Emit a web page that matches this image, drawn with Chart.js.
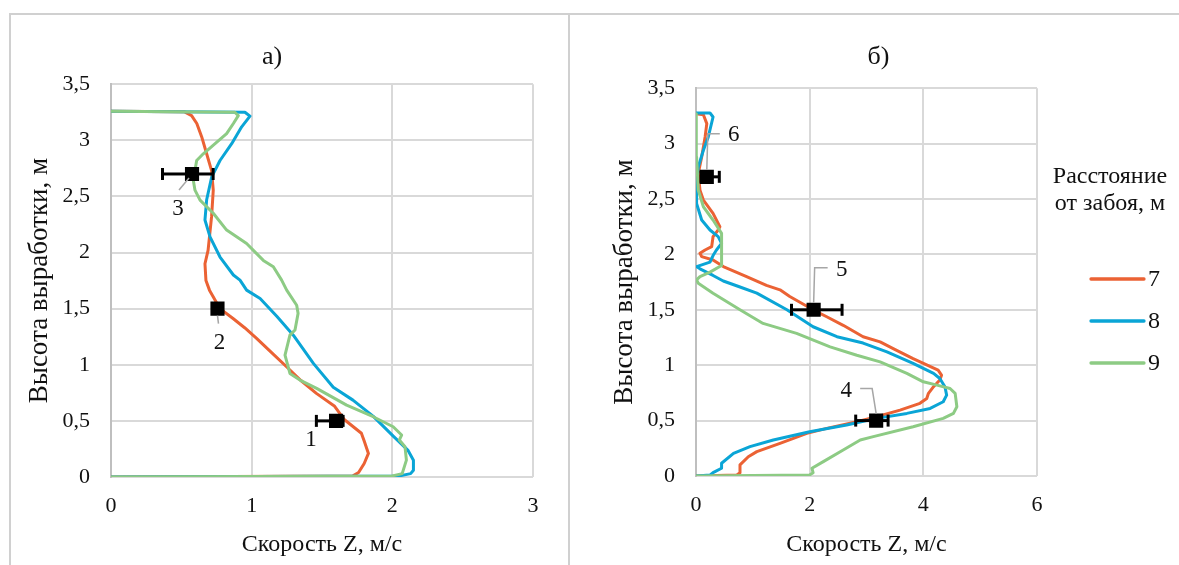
<!DOCTYPE html>
<html><head><meta charset="utf-8">
<script src="https://cdn.jsdelivr.net/npm/chart.js@4/dist/chart.umd.min.js"></script>
<style>
html,body{margin:0;padding:0;background:#fff;overflow:hidden;width:1179px;height:565px;position:relative;}
.ln{position:absolute;background:#d0d0d0;}
canvas{position:absolute;}
</style></head>
<body>
<div class="ln" style="left:9px;top:13px;width:1170px;height:2px;"></div>
<div class="ln" style="left:9px;top:13px;width:2px;height:552px;"></div>
<div class="ln" style="left:568px;top:13px;width:2px;height:552px;"></div>
<canvas id="cA" width="557" height="550" style="left:11px;top:15px;"></canvas>
<canvas id="cB" width="617" height="550" style="left:570px;top:15px;"></canvas>
<script>
// ---------- DATA ----------
const seriesNames = ['7', '8', '9'];
const seriesColors = ['#EB6234', '#0AA5D6', '#8DCB84'];

// Panel а) : [speed Z (m/s), height (m)]
const a7 = [[0,0],[1.72,0.01],[1.76,0.04],[1.80,0.12],[1.83,0.21],[1.80,0.32],[1.78,0.39],[1.66,0.51],[1.59,0.63],[1.46,0.745],[1.35,0.86],[1.25,0.98],[1.14,1.11],[1.035,1.235],[0.95,1.33],[0.87,1.41],[0.775,1.50],[0.70,1.665],[0.675,1.75],[0.668,1.9],[0.69,2.02],[0.715,2.32],[0.727,2.555],[0.715,2.73],[0.68,2.88],[0.645,3.03],[0.61,3.15],[0.573,3.22],[0.52,3.255],[0,3.26]];
const a8 = [[0,0],[2.05,0.01],[2.13,0.03],[2.15,0.06],[2.15,0.15],[2.11,0.24],[2.01,0.36],[1.865,0.54],[1.72,0.685],[1.58,0.80],[1.44,1.01],[1.296,1.264],[1.18,1.43],[1.06,1.59],[0.964,1.665],[0.917,1.754],[0.87,1.80],[0.775,1.96],[0.704,2.14],[0.668,2.29],[0.68,2.47],[0.716,2.674],[0.775,2.82],[0.858,2.97],[0.929,3.12],[0.988,3.215],[0.952,3.25],[0,3.26]];
const a9 = [[0,0],[2.0,0.01],[2.07,0.03],[2.10,0.15],[2.09,0.27],[2.05,0.33],[2.066,0.374],[2.006,0.448],[1.864,0.537],[1.675,0.64],[1.462,0.79],[1.343,0.864],[1.272,0.923],[1.237,1.086],[1.272,1.264],[1.308,1.31],[1.33,1.458],[1.32,1.53],[1.249,1.665],[1.213,1.754],[1.154,1.873],[1.083,1.93],[0.964,2.08],[0.822,2.2],[0.727,2.35],[0.633,2.467],[0.597,2.556],[0.585,2.645],[0.609,2.82],[0.656,2.88],[0.74,2.97],[0.822,3.06],[0.87,3.15],[0.905,3.22],[0.88,3.25],[0,3.26]];

// Panel б)
const b7 = [[0,0],[0.72,0.01],[0.774,0.03],[0.774,0.10],[0.92,0.174],[1.07,0.22],[1.478,0.295],[1.95,0.385],[2.3,0.43],[2.83,0.49],[3.18,0.535],[3.59,0.595],[3.94,0.656],[4.06,0.70],[4.09,0.746],[4.18,0.806],[4.29,0.866],[4.32,0.91],[4.26,0.956],[3.82,1.06],[3.47,1.15],[3.24,1.21],[2.94,1.257],[2.59,1.36],[2.30,1.437],[2.06,1.50],[1.65,1.62],[1.478,1.68],[1.24,1.72],[0.89,1.80],[0.48,1.89],[0.30,1.95],[0.10,1.98],[0.07,2.01],[0.16,2.04],[0.276,2.07],[0.30,2.16],[0.39,2.22],[0.42,2.25],[0.30,2.37],[0.13,2.49],[0.07,2.58],[0.04,2.73],[0.10,2.88],[0.16,3.06],[0.19,3.18],[0.13,3.26],[0,3.27]];
const b8 = [[0,0],[0.25,0.01],[0.30,0.03],[0.45,0.07],[0.45,0.115],[0.66,0.205],[0.95,0.265],[1.36,0.325],[2.0,0.40],[2.65,0.46],[3.18,0.52],[3.71,0.565],[4.12,0.61],[4.35,0.67],[4.41,0.73],[4.38,0.806],[4.29,0.88],[4.18,0.926],[3.82,1.017],[3.36,1.12],[2.94,1.20],[2.48,1.257],[2.06,1.347],[1.60,1.50],[1.07,1.65],[0.75,1.71],[0.48,1.76],[0.30,1.81],[0.07,1.87],[0.01,1.89],[0.246,1.93],[0.30,1.99],[0.36,2.04],[0.45,2.10],[0.39,2.16],[0.246,2.22],[0.10,2.31],[0.01,2.46],[0.01,2.64],[0.04,2.79],[0.13,2.94],[0.216,3.06],[0.30,3.24],[0.246,3.277],[0,3.277]];
const b9 = [[0,0],[2.0,0.01],[2.06,0.03],[2.04,0.07],[2.24,0.13],[2.59,0.235],[2.89,0.325],[3.12,0.355],[3.82,0.445],[4.35,0.52],[4.53,0.565],[4.59,0.625],[4.56,0.746],[4.47,0.79],[4.24,0.82],[4.0,0.85],[3.71,0.926],[3.24,1.03],[2.83,1.09],[2.36,1.166],[1.77,1.287],[1.18,1.377],[0.774,1.50],[0.30,1.65],[0.04,1.74],[0.01,1.77],[0.07,1.80],[0.246,1.84],[0.45,1.90],[0.45,2.07],[0.45,2.19],[0.30,2.31],[0.13,2.43],[0.04,2.58],[0.01,2.88],[0.01,3.27],[0,3.27]];

// Measurement points with horizontal error bars
const markA_x = [1.6, 0.757, 0.576];
const markA_y = [0.5, 1.5, 2.7];
const markA_minus = [0.14, 0, 0.21];
const markA_plus = [0.05, 0, 0.15];
const markA_labels = ['1', '2', '3'];

const markB_x = [3.17, 2.07, 0.19];
const markB_y = [0.5, 1.5, 2.7];
const markB_minus = [0.36, 0.39, 0.1];
const markB_plus = [0.21, 0.5, 0.22];
const markB_labels = ['4', '5', '6'];

const titleA = 'а)';
const titleB = 'б)';
const xTitle = 'Скорость Z, м/с';
const yTitle = 'Высота выработки, м';
const legendTitle = ['Расстояние', 'от забоя, м'];

// ---------- RENDERING ----------
const FONT = "'Liberation Serif','Times New Roman',serif";
const toXY = arr => arr.map(p => ({x: p[0], y: p[1]}));
const comma = v => String(v).replace('.', ',');

function lineDs(data, idx) {
  return {
    label: seriesNames[idx], data: toXY(data), showLine: true,
    borderColor: seriesColors[idx], backgroundColor: seriesColors[idx],
    borderWidth: 3, pointRadius: 0, tension: 0,
    borderJoinStyle: 'round', borderCapStyle: 'round',
    order: 3 - idx
  };
}
function markerDs(xs, ys) {
  return {
    label: 'marks', data: xs.map((x, i) => ({x, y: ys[i]})), showLine: false,
    pointStyle: 'rect', pointRadius: 10, backgroundColor: '#000', borderColor: '#000',
    borderWidth: 0, order: 0, isMarkers: true
  };
}

const extrasPlugin = {
  id: 'extras',
  afterDatasetsDraw(chart, args, o) {
    const ctx = chart.ctx, xs = chart.scales.x, ys = chart.scales.y;
    ctx.save();
    o.x.forEach((xv, i) => {
      const px = xs.getPixelForValue(xv), py = ys.getPixelForValue(o.y[i]);
      const ld = o.place[i].leader;
      if (ld && ld.length) {
        ctx.strokeStyle = '#a6a6a6'; ctx.lineWidth = 1.5;
        ctx.beginPath();
        ld.forEach((p, k) => k ? ctx.lineTo(px + p[0], py + p[1]) : ctx.moveTo(px + p[0], py + p[1]));
        ctx.stroke();
      }
      ctx.strokeStyle = '#000'; ctx.lineWidth = 3;
      const lx = xs.getPixelForValue(xv - o.minus[i]), rx = xs.getPixelForValue(xv + o.plus[i]);
      if (o.minus[i] > 0) {
        ctx.beginPath(); ctx.moveTo(px, py); ctx.lineTo(lx, py); ctx.stroke();
        ctx.beginPath(); ctx.moveTo(lx, py - 6); ctx.lineTo(lx, py + 6); ctx.stroke();
      }
      if (o.plus[i] > 0) {
        ctx.beginPath(); ctx.moveTo(px, py); ctx.lineTo(rx, py); ctx.stroke();
        ctx.beginPath(); ctx.moveTo(rx, py - 6); ctx.lineTo(rx, py + 6); ctx.stroke();
      }
      ctx.fillStyle = '#111'; ctx.font = '23px ' + FONT;
      ctx.textAlign = 'center'; ctx.textBaseline = 'middle';
      ctx.fillText(o.labels[i], px + o.place[i].dx, py + o.place[i].dy);
    });
    ctx.restore();
  }
};

const legendPlugin = {
  id: 'customLegend',
  afterDraw(chart, args, o) {
    if (!o.show) return;
    const ctx = chart.ctx;
    ctx.save();
    ctx.fillStyle = '#111'; ctx.font = '24px ' + FONT;
    ctx.textAlign = 'center'; ctx.textBaseline = 'middle';
    legendTitle.forEach((t, i) => ctx.fillText(t, o.cx, o.ty + i * 27));
    chart.data.datasets.filter(d => !d.isMarkers).forEach((d, i) => {
      const y = o.iy + i * 42;
      ctx.strokeStyle = d.borderColor; ctx.lineWidth = 3.3; ctx.lineCap = 'round';
      ctx.beginPath(); ctx.moveTo(o.lx0, y); ctx.lineTo(o.lx1, y); ctx.stroke();
      ctx.textAlign = 'left'; ctx.fillStyle = '#111';
      ctx.fillText(d.label, o.lx1 + 4, y + 1);
    });
    ctx.restore();
  }
};

function makeChart(id, cfg) {
  const tickFont = {family: FONT, size: 22};
  const scales = {
    x: {
      type: 'linear', min: 0, max: cfg.xmax,
      ticks: {stepSize: cfg.xstep, font: tickFont, color: '#111', padding: 16, callback: comma, maxRotation: 0},
      grid: {color: '#d9d9d9', lineWidth: 2, drawTicks: false},
      border: {display: false},
      title: {display: true, text: xTitle, font: {family: FONT, size: 24}, color: '#111', padding: {top: 0, bottom: 6}},
      afterFit: s => { s.height = cfg.xh; }
    },
    y: {
      type: 'linear', min: 0, max: 3.5,
      ticks: {stepSize: 0.5, font: tickFont, color: '#111', padding: 21, callback: comma},
      grid: {color: '#d9d9d9', lineWidth: 2, drawTicks: false},
      border: {display: true, color: '#bfbfbf', width: 2},
      title: {display: true, text: yTitle, font: {family: FONT, size: 27}, color: '#111', padding: {top: cfg.ytp, bottom: 0}},
      afterFit: s => { s.width = cfg.yw; }
    }
  };
  if (cfg.rightW) {
    scales.yR = {
      type: 'linear', position: 'right', display: true,
      grid: {display: false, drawTicks: false}, ticks: {display: false}, border: {display: false},
      afterFit: s => { s.width = cfg.rightW; }
    };
  }
  return new Chart(document.getElementById(id), {
    type: 'scatter',
    data: {datasets: [lineDs(cfg.s[0], 0), lineDs(cfg.s[1], 1), lineDs(cfg.s[2], 2), markerDs(cfg.mx, cfg.my)]},
    options: {
      responsive: false, animation: false, devicePixelRatio: 1,
      layout: {padding: {left: 0, top: 0, right: cfg.padR, bottom: 0}},
      scales,
      plugins: {
        legend: {display: false}, tooltip: {enabled: false},
        title: {display: true, text: cfg.title, font: {family: FONT, size: 26, weight: 'normal'}, color: '#111',
                padding: {top: 27, bottom: cfg.tpb}},
        extras: {x: cfg.mx, y: cfg.my, minus: cfg.mm, plus: cfg.mp, labels: cfg.ml, place: cfg.place},
        customLegend: cfg.legend || {show: false}
      }
    },
    plugins: [extrasPlugin, legendPlugin]
  });
}

makeChart('cA', {
  s: [a7, a8, a9], xmax: 3, xstep: 1, xh: 88, yw: 100, ytp: 13, padR: 35, tpb: 11, title: titleA,
  mx: markA_x, my: markA_y, mm: markA_minus, mp: markA_plus, ml: markA_labels,
  place: [
    {dx: -25, dy: 19, leader: []},
    {dx: 2, dy: 34, leader: [[0, 7], [1, 15]]},
    {dx: -14, dy: 35, leader: [[-13, 16], [-3, 4]]}
  ]
});
makeChart('cB', {
  s: [b7, b8, b9], xmax: 6, xstep: 2, xh: 89, yw: 126, ytp: 39, padR: 0, rightW: 150, tpb: 15, title: titleB,
  mx: markB_x, my: markB_y, mm: markB_minus, mp: markB_plus, ml: markB_labels,
  place: [
    {dx: -30, dy: -30, leader: [[-16, -32], [-4, -32], [0, -7]]},
    {dx: 28, dy: -40, leader: [[14, -42], [1, -42], [0, -7]]},
    {dx: 27, dy: -42, leader: [[13, -43], [1, -43], [0, -7]]}
  ],
  legend: {show: true, cx: 540, ty: 162, iy: 264, lx0: 521, lx1: 574}
});
</script>
</body></html>
